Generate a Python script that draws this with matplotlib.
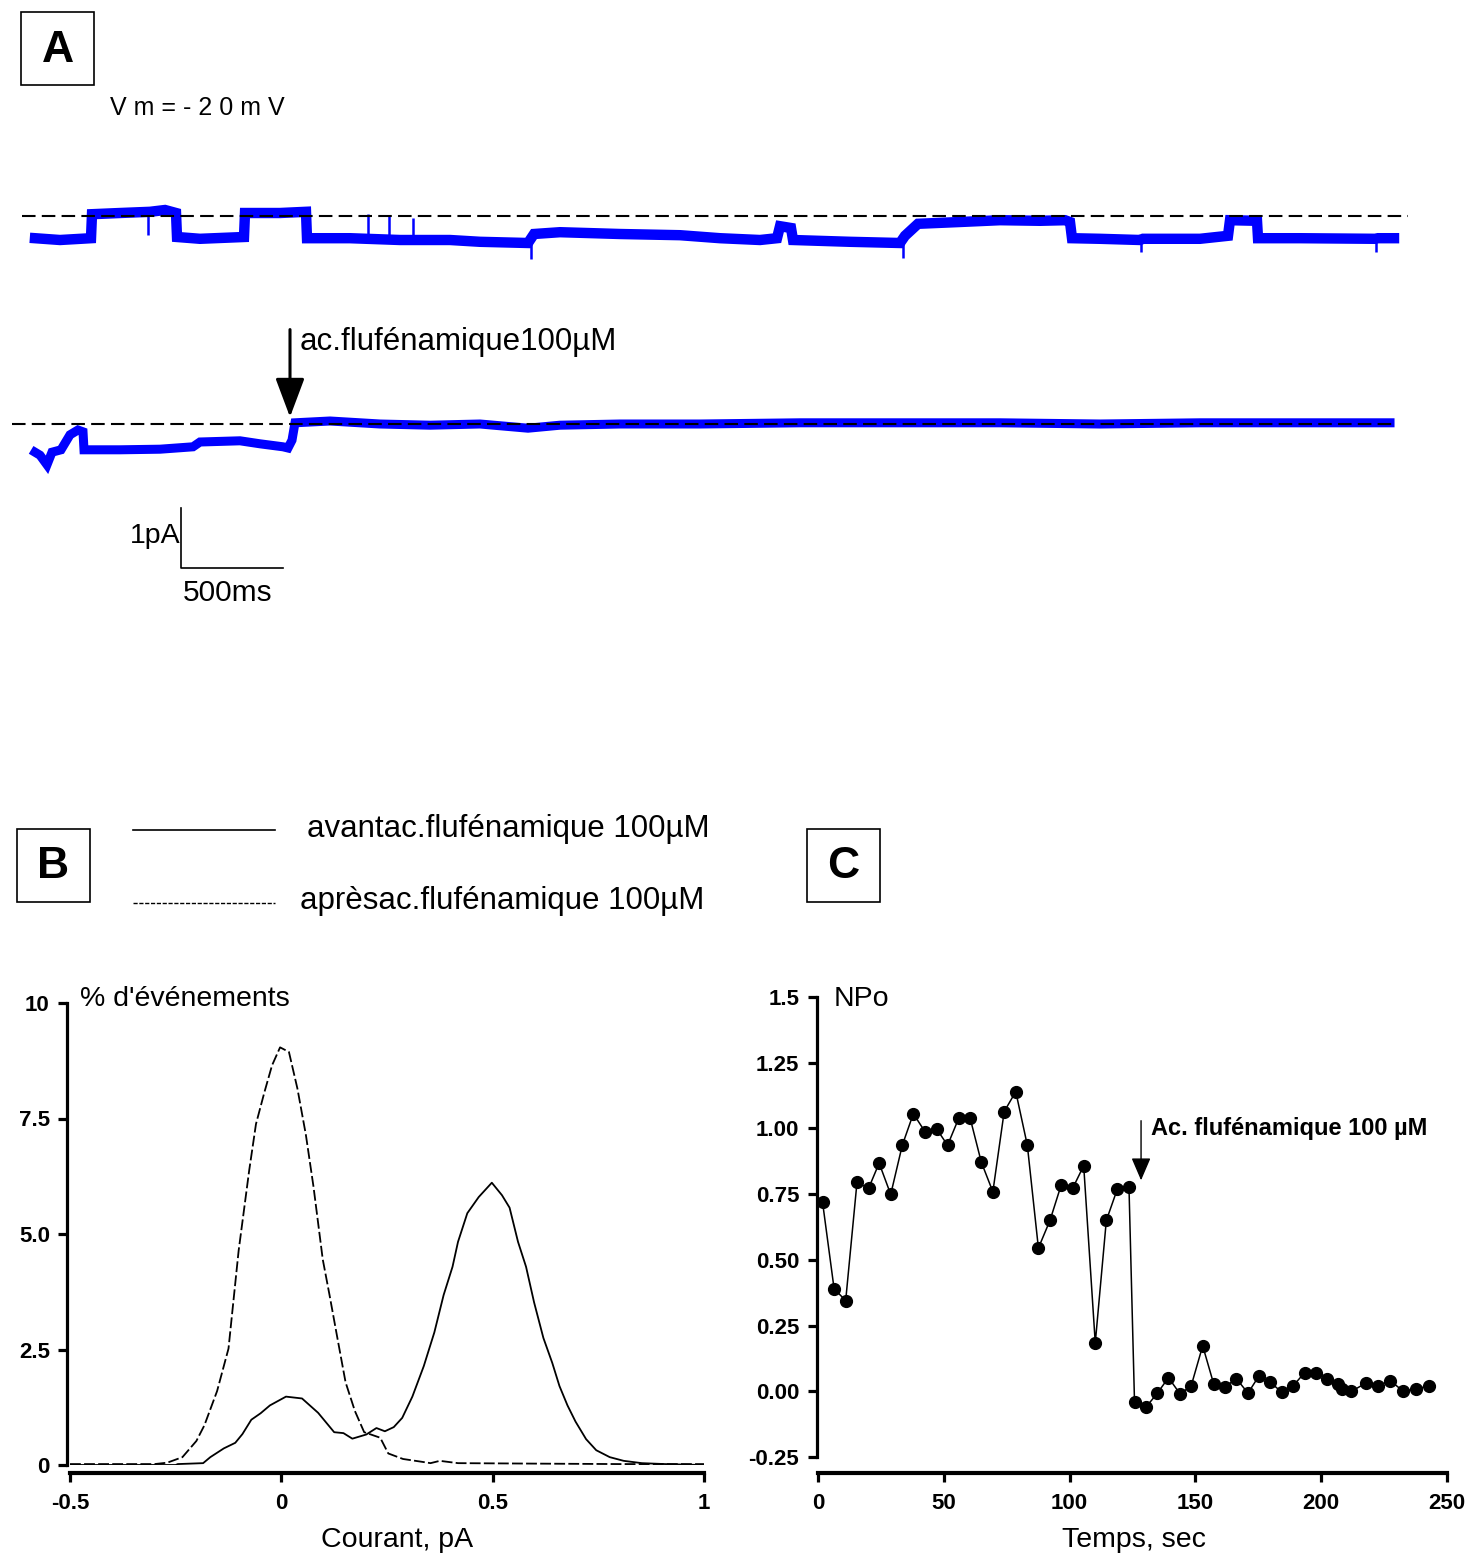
import numpy as np
import matplotlib
matplotlib.use('Agg')
import matplotlib.pyplot as plt
from matplotlib.patches import Rectangle
from matplotlib.lines import Line2D

plt.rcParams['font.family'] = ['Liberation Sans', 'DejaVu Sans']

# ---- Panel A : single channel traces (time in ms, current in pA relative to dashed line)
top_t = [0, 122.5, 274.5, 279.4, 416.7, 563.7, 637.3, 691.2, 696.1, 808.8, 1024.5, 1029.4,
         1201.0, 1328.4, 1333.3, 1544.1, 1789.2, 2034.3, 2181.4, 2416.7, 2446.1,
         2573.5, 2867.7, 3161.8, 3357.8, 3553.9, 3637.3, 3652.0, 3705.9, 3715.7, 3995.1,
         4240.2, 4264.7, 4328.4, 4534.3, 4730.4, 4926.5, 5049.0, 5073.5, 5083.3,
         5220.6, 5416.7, 5431.4, 5710.8, 5848.0, 5857.8, 5990.2, 5995.1, 6200.1,
         6568.6, 6583.3, 6661.8]
top_i = [-0.37, -0.40, -0.37, 0.03, 0.05, 0.07, 0.10, 0.05, -0.35, -0.38, -0.35, 0.05,
         0.05, 0.07, -0.37, -0.37, -0.40, -0.40, -0.43, -0.45, -0.30,
         -0.27, -0.30, -0.32, -0.37, -0.40, -0.37, -0.17, -0.20, -0.40, -0.43,
         -0.45, -0.33, -0.13, -0.10, -0.07, -0.08, -0.07, -0.10, -0.37,
         -0.38, -0.40, -0.38, -0.38, -0.33, -0.07, -0.08, -0.37, -0.37,
         -0.38, -0.37, -0.37]
# brief spikes on the top trace (time, peak current)
spike_t = [554, 1632, 1735, 1853, 2431, 4255, 5422, 6574]
spike_i = [-0.32, 0.03, 0.0, -0.03, -0.72, -0.70, -0.60, -0.60]

bot_t = [0, 24.5, 58.8, 83.3, 127.5, 171.6, 210.8, 235.3, 240.2, 416.7, 612.8, 774.5,
         808.8, 1004.9, 1102.9, 1215.7, 1240.2, 1259.8, 1274.5, 1446.1, 1691.2, 1936.3,
         2181.4, 2416.7, 2573.5, 2867.7, 3259.8, 3750.0, 4240.2, 4730.4, 5220.6, 5710.8,
         6200.1, 6642.2]
bot_i = [-0.47, -0.52, -0.68, -0.47, -0.43, -0.18, -0.10, -0.13, -0.43, -0.43, -0.42, -0.38,
         -0.30, -0.28, -0.33, -0.38, -0.40, -0.27, 0.02, 0.05, 0.0, -0.02,
         0.0, -0.07, -0.02, 0.0, 0.0, 0.02, 0.02, 0.02, 0.0, 0.02,
         0.02, 0.02]

# ---- Panel B : amplitude histograms
avant_x = [-0.5, -0.25, -0.245, -0.185, -0.168, -0.136, -0.109, -0.092, -0.071, -0.049,
           -0.027, -0.005, 0.011, 0.049, 0.087, 0.125, 0.147, 0.168, 0.201, 0.225, 0.245,
           0.266, 0.286, 0.310, 0.337, 0.362, 0.384, 0.405, 0.418, 0.440, 0.467, 0.498,
           0.522, 0.540, 0.560, 0.579, 0.598, 0.620, 0.641, 0.658, 0.677, 0.696, 0.721,
           0.745, 0.777, 0.810, 0.853, 0.908, 0.995]
avant_y = [0.0, 0.0, 0.02, 0.04, 0.17, 0.36, 0.48, 0.67, 0.98, 1.12,
           1.29, 1.40, 1.48, 1.44, 1.13, 0.71, 0.69, 0.57, 0.66, 0.80, 0.73,
           0.82, 1.02, 1.48, 2.14, 2.87, 3.68, 4.29, 4.83, 5.45, 5.80, 6.11,
           5.84, 5.57, 4.83, 4.29, 3.52, 2.75, 2.21, 1.71, 1.29, 0.94, 0.56,
           0.32, 0.17, 0.09, 0.04, 0.02, 0.0]

apres_x = [-0.5, -0.3, -0.27, -0.234, -0.201, -0.182, -0.152, -0.125, -0.101, -0.076,
           -0.060, -0.040, -0.022, -0.003, 0.018, 0.038, 0.058, 0.076, 0.098, 0.114,
           0.134, 0.152, 0.174, 0.196, 0.234, 0.253, 0.288, 0.332, 0.353, 0.375, 0.418,
           0.6, 0.8, 1.0]
apres_y = [0.02, 0.02, 0.05, 0.17, 0.52, 0.86, 1.6, 2.52, 4.64, 6.38,
           7.38, 8.07, 8.65, 9.04, 8.94, 8.15, 7.15, 6.03, 4.45, 3.68,
           2.68, 1.79, 1.17, 0.71, 0.59, 0.25, 0.13, 0.07, 0.04, 0.09, 0.04,
           0.03, 0.02, 0.02]

# ---- Panel C : NPo vs time
temps = [1.8, 6.4, 11.0, 15.5, 20.1, 24.3, 28.9, 33.5, 37.9, 42.5, 47.1, 51.5, 55.9,
         60.5, 64.9, 69.5, 74.0, 78.6, 83.2, 87.6, 92.2, 96.6, 101.2, 105.6, 110.2,
         114.6, 119.0, 123.6, 125.8, 130.3, 134.9, 139.3, 143.9, 148.3, 152.9, 157.3,
         161.9, 166.3, 170.9, 175.3, 179.8, 184.4, 188.8, 193.4, 197.8, 202.4, 206.8,
         208.3, 212.0, 217.8, 222.6, 227.4, 232.6, 237.7, 242.9]
npo = [0.72, 0.39, 0.345, 0.795, 0.772, 0.868, 0.749, 0.936, 1.056, 0.988, 0.999, 0.936,
       1.038, 1.038, 0.872, 0.759, 1.064, 1.140, 0.936, 0.545, 0.650, 0.783, 0.772,
       0.858, 0.184, 0.650, 0.770, 0.777, -0.041, -0.061, -0.007, 0.052, -0.010, 0.020,
       0.173, 0.027, 0.018, 0.048, -0.007, 0.059, 0.034, -0.004, 0.020, 0.071, 0.071,
       0.048, 0.027, 0.007, 0.0, 0.031, 0.020, 0.041, 0.0, 0.010, 0.020]

b_yticks = [0, 2.5, 5.0, 7.5, 10]
b_ylabels = ['0', '2.5', '5.0', '7.5', '10']
b_xticks = [-0.5, 0, 0.5, 1]
b_xlabels = ['-0.5', '0', '0.5', '1']
c_yticks = [-0.25, 0, 0.25, 0.5, 0.75, 1.0, 1.25, 1.5]
c_ylabels = ['-0.25', '0.00', '0.25', '0.50', '0.75', '1.00', '1.25', '1.5']
c_xticks = [0, 50, 100, 150, 200, 250]

W, H = 1466, 1557


def fx(px):
    return px / W


def fy(py):
    return 1 - py / H


fig = plt.figure(figsize=(W / 100, H / 100), dpi=100)

# ================= Panel A =================
ax_a = fig.add_axes([0, fy(620), 1, 520 / H])
ax_a.set_xlim(-35 * 500 / 102, (W - 35) * 500 / 102)
ax_a.set_ylim(0, 520 / 60)
ax_a.axis('off')

top0 = 404 / 60
bot0 = 196 / 60
blue = '#0000ff'
ax_a.plot(top_t, np.array(top_i) + top0, color=blue, lw=7.5, solid_joinstyle='miter')
base = np.interp(spike_t, top_t, top_i)
ax_a.vlines(spike_t, base + top0, np.array(spike_i) + top0, color=blue, lw=1.8)
ax_a.plot(bot_t, np.array(bot_i) + bot0, color=blue, lw=6.5, solid_joinstyle='miter')
ax_a.plot([-64, 6730], [top0, top0], color='black', lw=1.5, ls=(0, (6.5, 3)), zorder=5)
ax_a.plot([-113, 6652], [bot0, bot0], color='black', lw=1.5, ls=(0, (6.5, 3)), zorder=5)

ax_a.annotate('', xy=(1250, bot0 + 0.07), xytext=(1250, bot0 + 1.62),
              arrowprops=dict(arrowstyle='-|>,head_length=1.2,head_width=0.45',
                              color='black', lw=2.2, mutation_scale=20))
ax_a.text(1299, bot0 + 1.37, 'ac.flufénamique100µM', fontsize=22.5, va='center', ha='left')
ax_a.text(367, 8.53, 'V m = - 2 0 m V', fontsize=18, va='center', ha='left')

# scale bar
sb_t, sb_y = 715.7, 0.867
ax_a.plot([sb_t, sb_t, sb_t + 500], [sb_y + 1, sb_y, sb_y], color='black', lw=1.2)
ax_a.text(sb_t - 4, sb_y + 0.53, '1pA', fontsize=20.5, ha='right', va='center')
ax_a.text(sb_t + 230, sb_y - 0.42, '500ms', fontsize=21.5, ha='center', va='center')

# ================= Panel labels (boxes) =================
for (x0, y0, lab) in [(21, 12, 'A'), (17, 829, 'B'), (807, 829, 'C')]:
    fig.add_artist(Rectangle((fx(x0), fy(y0 + 73)), 73 / W, 73 / H, fill=False,
                             lw=1.2, ec='black', transform=fig.transFigure))
    fig.text(fx(x0 + 36.5), fy(y0 + 38), lab, fontsize=32, fontweight='bold',
             ha='center', va='center')

# legend of B
fig.add_artist(Line2D([fx(133), fx(275)], [fy(830), fy(830)], color='black', lw=1.2))
fig.add_artist(Line2D([fx(133), fx(275)], [fy(903), fy(903)], color='black', lw=1.0,
                      ls=(0, (3, 1.2))))
fig.text(fx(307), fy(829), 'avantac.flufénamique 100µM', fontsize=22.5, va='center')
fig.text(fx(300), fy(901), 'aprèsac.flufénamique 100µM', fontsize=22.5, va='center')


def style_axes(ax, x_out, y_out):
    for s in ['top', 'right']:
        ax.spines[s].set_visible(False)
    ax.spines['left'].set_linewidth(2.3)
    ax.spines['bottom'].set_linewidth(3)
    ax.spines['left'].set_position(('outward', y_out))
    ax.spines['bottom'].set_position(('outward', x_out))
    ax.tick_params(axis='both', width=2.3, length=6.5, labelsize=16)
    ax.tick_params(axis='y', pad=6)
    ax.tick_params(axis='x', pad=8)
    for lab in ax.get_xticklabels() + ax.get_yticklabels():
        lab.set_fontweight('bold')
    ax.patch.set_visible(False)


# ================= Panel B =================
ax_b = fig.add_axes([fx(70), fy(1465), 634 / W, 462 / H])
ax_b.plot(avant_x, avant_y, color='black', lw=1.3)
ax_b.plot(apres_x, apres_y, color='black', lw=1.3, ls=(0, (6, 1.8)))
ax_b.set_xlim(-0.5, 1)
ax_b.set_ylim(0, 10)
ax_b.set_xticks(b_xticks)
ax_b.set_xticklabels(b_xlabels)
ax_b.set_yticks(b_yticks)
ax_b.set_yticklabels(b_ylabels)
style_axes(ax_b, 6, 2)
fig.text(fx(80), fy(999), "% d'événements", fontsize=20.5, va='center', ha='left')
fig.text(fx(397), fy(1540), 'Courant, pA', fontsize=20.5, va='center', ha='center')

# ================= Panel C =================
ax_c = fig.add_axes([fx(818), fy(1457), 629 / W, 460 / H])
ax_c.plot(temps, npo, color='black', lw=1.1, marker='o', ms=8.5, clip_on=False)
ax_c.set_xlim(0, 250)
ax_c.set_ylim(-0.25, 1.5)
ax_c.set_xticks(c_xticks)
ax_c.set_yticks(c_yticks)
ax_c.set_yticklabels(c_ylabels)
style_axes(ax_c, 11.5, 1)
ax_c.annotate('', xy=(128.4, 0.792), xytext=(128.4, 1.04),
              arrowprops=dict(arrowstyle='-|>,head_length=0.7,head_width=0.3',
                              color='black', lw=1.0, mutation_scale=20))
ax_c.text(132.5, 1.0, 'Ac. flufénamique 100 µM', fontsize=17, fontweight='bold',
          va='center', ha='left')
fig.text(fx(834), fy(999), 'NPo', fontsize=20.5, va='center', ha='left')
fig.text(fx(1134), fy(1540), 'Temps, sec', fontsize=20.5, va='center', ha='center')

fig.savefig('out.png', dpi=100)
